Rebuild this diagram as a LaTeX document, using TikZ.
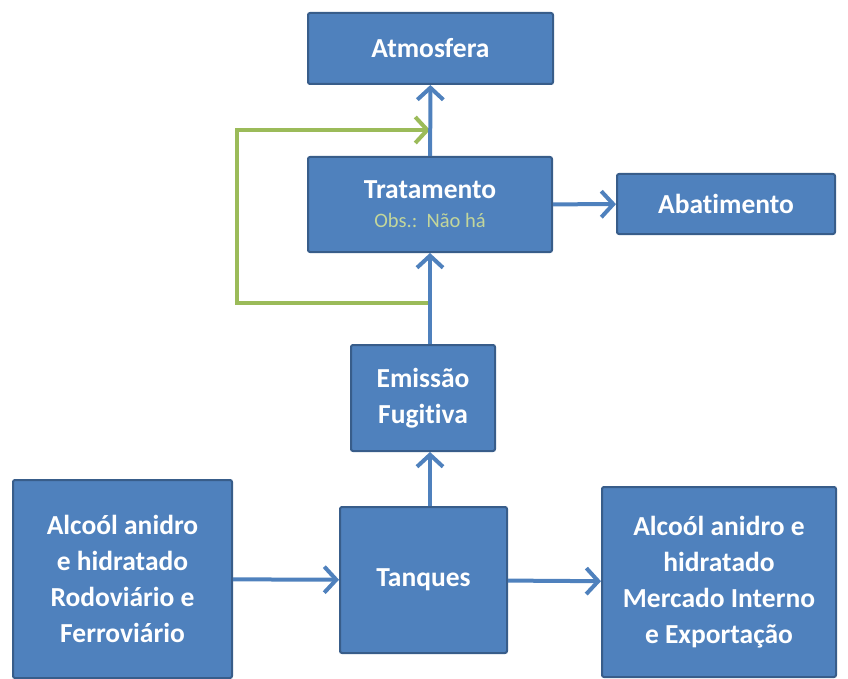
\documentclass[tikz,border=0pt]{standalone}
\usepackage{fontspec}
\setmainfont{Carlito}[Ligatures=NoCommon]
\usetikzlibrary{arrows.meta}
\definecolor{boxblue}{HTML}{4F81BD}
\definecolor{boxedge}{HTML}{385D8A}
\definecolor{loopgreen}{HTML}{9BBB59}
\definecolor{obsgreen}{HTML}{C3D69B}

\begin{document}
\begin{tikzpicture}
  [x=1pt,y=-1pt,
   every node/.style={rectangle,rounded corners=2pt,draw=boxedge,line width=2pt,fill=boxblue,
     text=white,font=\bfseries\fontsize{27.5}{36}\selectfont,align=center,inner sep=0pt},
   flow/.style={draw=boxblue,line width=4pt,-{Straight Barb[length=12pt,width=26pt]}},
   back/.style={draw=loopgreen,line width=4pt,-{Straight Barb[length=12pt,width=26pt]}}]
  \useasboundingbox (0,0) rectangle (848,679);

  \node (atm) at (430.5,48.5) [minimum width=245pt,minimum height=71pt] {Atmosfera};
  \node (trat) at (430,204.5) [minimum width=244pt,minimum height=95pt]
    {Tratamento\\[-7pt]{\fontsize{20.5}{26}\mdseries\color{obsgreen}Obs.:\ \ Não há}};
  \node (abat) at (726,204) [minimum width=218pt,minimum height=60pt] {Abatimento};
  \node (emis) at (423,398) [minimum width=144pt,minimum height=106pt] {Emissão\\Fugitiva};
  \node (tanq) at (423.5,580) [minimum width=167pt,minimum height=146pt] {Tanques};
  \node (orig) at (122.5,579) [minimum width=219pt,minimum height=198pt]
    {Alcoól anidro\\e hidratado\\Rodoviário e\\Ferroviário};
  \node (dest) at (719,582) [minimum width=234pt,minimum height=190pt]
    {Alcoól anidro e\\hidratado\\Mercado Interno\\e Exportação};

  \coordinate (tap) at (430,303);
  \coordinate (join) at (430,130);
  \draw [back] (tap) -- (237,303) |- (join);

  \foreach \from/\to in {trat/atm, trat/abat, orig/tanq, tanq/dest}
    \draw [flow] (\from) -- (\to);
  \draw [flow] (tanq.north -| trat) -- (emis.south -| trat);
  \draw [flow] (emis.north -| trat) -- (trat);

\end{tikzpicture}
\end{document}
